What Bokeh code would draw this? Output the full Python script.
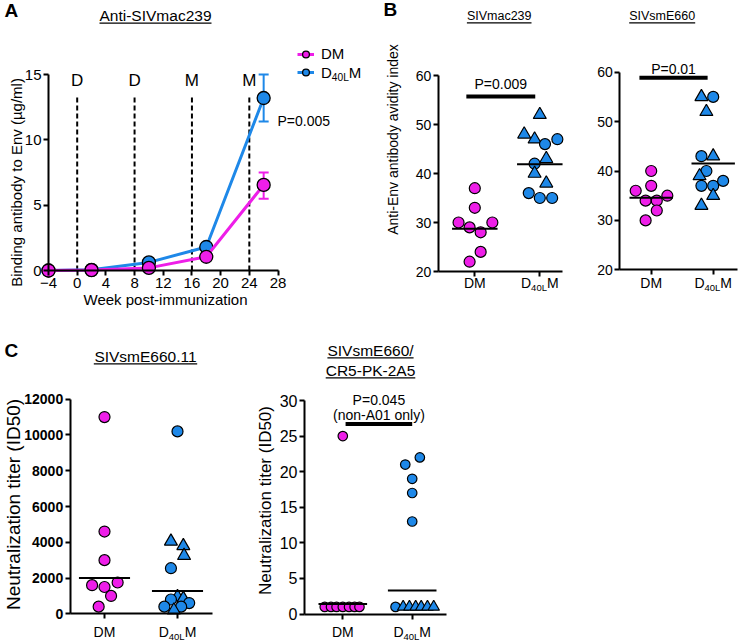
import math
from bokeh.plotting import figure
from bokeh.models import (Range1d, FixedTicker, Label, BoxAnnotation, Legend,
                          LegendItem, Whisker, TeeHead, ColumnDataSource)
from bokeh.layouts import column, row
from bokeh.embed import file_html
from bokeh.resources import INLINE
from bokeh.core.properties import value

FONT = "Liberation Sans"
MAGENTA = "#EE1EE8"
BLUE = "#1E88E8"

# ---------------- data ----------------
# Panel A: binding antibody to Env (ug/ml), mean with error bar ends
weeks = [-4, 2, 10, 18, 26]
dm_bind = [0.0, 0.03, 0.2, 1.05, 6.55]
dm_bind_lo = [0.0, 0.03, 0.2, 1.05, 5.5]
dm_bind_hi = [0.0, 0.03, 0.2, 1.05, 7.5]
d40_bind = [0.0, 0.05, 0.62, 1.8, 13.2]
d40_bind_lo = [0.0, 0.05, 0.62, 1.8, 11.4]
d40_bind_hi = [0.0, 0.05, 0.62, 1.8, 15.0]
imm_weeks = [0, 8, 16, 24]
imm_labels = ["D", "D", "M", "M"]
a_x_ticks = [-4, 0, 4, 8, 12, 16, 20, 24, 28]
a_y_ticks = [0, 5, 10, 15]
a_p = "P=0.005"

groups = ["DM", "D40LM"]

# Panel B: avidity index
mac_dm = [37, 33, 30, 30, 29, 28, 24, 22]
mac_dm_jit = [0.0, 0.0, -0.25, 0.27, -0.08, 0.09, 0.09, -0.08]
mac_d40 = [52, 48, 47, 46, 47, 42, 43, 40, 38, 36, 35, 35]
mac_d40_mk = ["triangle", "triangle", "triangle", "circle", "circle", "circle",
              "triangle", "triangle", "triangle", "circle", "circle", "circle"]
mac_d40_jit = [0.0, -0.24, -0.08, 0.08, 0.27, -0.08, 0.1, -0.08, 0.1, -0.17, 0.0, 0.19]
mac_center = [28.7, 41.9]
mac_p = "P=0.009"

e660_dm = [40, 37, 36, 35, 34, 34, 32, 30]
e660_dm_jit = [0.0, 0.0, -0.25, 0.26, -0.09, 0.09, 0.09, -0.09]
e660_d40 = [55, 55, 52, 43, 43, 40, 39, 37, 37, 38, 35, 33]
e660_d40_mk = ["triangle", "circle", "triangle", "circle", "triangle", "circle",
               "triangle", "circle", "circle", "circle", "triangle", "triangle"]
e660_d40_jit = [-0.19, 0.0, -0.11, -0.19, 0.0, -0.11, -0.22, -0.19, 0.0, 0.16, 0.0, -0.19]
e660_center = [34.6, 41.5]
e660_p = "P=0.01"
avid_ticks = [20, 30, 40, 50, 60]

# Panel C: neutralization titer (ID50)
n11_dm = [11000, 4600, 3000, 1600, 1750, 1500, 1000, 400]
n11_dm_jit = [0.0, 0.0, 0.0, -0.17, 0.18, 0.0, 0.09, -0.08]
n11_d40 = [10200, 4050, 3800, 3250, 2550, 950, 850, 800, 600, 400, 400, 200]
n11_d40_mk = ["circle", "triangle", "triangle", "triangle", "circle", "triangle",
              "triangle", "circle", "circle", "circle", "circle", "triangle"]
n11_d40_jit = [0.0, -0.09, 0.08, 0.09, -0.09, 0.0, 0.08, -0.09, 0.16, -0.18, 0.05, -0.05]
n11_center = [2000, 1270]
n11_ticks = [0, 2000, 4000, 6000, 8000, 10000, 12000]

a5_dm = [25, 1, 1, 1, 1, 1, 1, 1]
a5_dm_jit = [0.0, -0.26, -0.17, -0.09, 0.0, 0.09, 0.17, 0.24]
a5_d40 = [22, 21, 19, 17, 13, 1, 1, 1, 1, 1, 1, 1]
a5_d40_mk = ["circle", "circle", "circle", "circle", "circle", "circle",
             "triangle", "triangle", "triangle", "triangle", "triangle", "triangle"]
a5_d40_jit = [0.11, -0.1, 0.0, 0.0, 0.0, -0.24, -0.13, -0.04, 0.05, 0.13, 0.22, 0.31]
a5_center = [1.4, 3.3]
a5_p = ["P=0.045", "(non-A01 only)"]
a5_ticks = [0, 5, 10, 15, 20, 25, 30]

# ---------------- helpers ----------------
CW = {"A": .667, "n": .556, "t": .278, "i": .222, "-": .333, "S": .667, "I": .278,
      "V": .667, "m": .833, "a": .556, "c": .5, "s": .5, "E": .667, ".": .278,
      "/": .278, "C": .722, "R": .722, "P": .667, "K": .667, "D": .722, "L": .556,
      "M": .833, "=": .584, " ": .278}


def tw(s, fs):
    return sum(CW.get(ch, .556) for ch in s) * fs


class Panel:
    def __init__(self, box, xcal, ycal):
        x0, y0, w, h = box
        self.x0, self.y0, self.w, self.h = box
        px0, vx0, px1, vx1 = xcal
        py0, vy0, py1, vy1 = ycal
        kx = (vx1 - vx0) / (px1 - px0)
        ky = (vy1 - vy0) / (py1 - py0)
        self.X = lambda px: vx0 + (px - px0) * kx
        self.Y = lambda py: vy0 + (py - py0) * ky
        self.PX = lambda v: px0 + (v - vx0) / kx
        self.PY = lambda v: py0 + (v - vy0) / ky
        p = figure(width=w, height=h,
                   x_range=Range1d(self.X(x0), self.X(x0 + w)),
                   y_range=Range1d(self.Y(y0 + h), self.Y(y0)),
                   output_backend="svg", toolbar_location=None)
        p.min_border = 0
        p.min_border_left = p.min_border_right = p.min_border_top = p.min_border_bottom = 0
        p.outline_line_color = None
        p.grid.visible = False
        p.background_fill_color = "white"
        p.border_fill_color = "white"
        self.p = p

    def text(self, px, py, txt, fs, align="left", bold=False, angle=0.0,
             baseline="middle"):
        self.p.add_layout(Label(x=self.X(px), y=self.Y(py), text=txt,
                                text_font=FONT, text_font_size=f"{fs}px",
                                text_align=align, text_baseline=baseline,
                                text_font_style="bold" if bold else "normal",
                                angle=angle, text_color="black"))

    def ctext(self, px, cy, txt, fs, align="center", bold=False):
        self.text(px, cy, txt, fs, align=align, bold=bold, baseline="middle")

    def vtext(self, cx, cy, txt, fs):
        self.text(cx, cy, txt, fs, align="center", angle=math.pi / 2,
                  baseline="middle")

    def underline(self, xa, xb, py):
        self.p.add_layout(BoxAnnotation(left=self.X(xa), right=self.X(xb),
                                        top=self.Y(py - 0.6), bottom=self.Y(py + 0.6),
                                        fill_color="black", fill_alpha=1.0,
                                        line_alpha=0))

    def title(self, cx, cy, txt, fs, ul):
        self.ctext(cx, cy, txt, fs)
        w = tw(txt, fs)
        self.underline(cx - w / 2, cx + w / 2, ul)

    def group_label(self, name, px, cy, fs, anchor="center"):
        if name == "D40LM":
            sfs = round(fs * 0.68, 1)
            parts = [("D", fs, 0.0),
                     ("40L", sfs, 0.358 * fs + 0.22 * fs - 0.358 * sfs),
                     ("M", fs, 0.0)]
        else:
            parts = [(name, fs, 0.0)]
        total = sum(tw(t, f) for t, f, _ in parts)
        x = px - total / 2 if anchor == "center" else px
        for t, f, dy in parts:
            self.text(x, cy + dy, t, f, baseline="middle")
            x += tw(t, f)


def setup_axes(P, xfix, xb, xt, yfix, yb, yt, fs, bold=False, xlabels=True):
    p = P.p
    xa, ya = p.xaxis[0], p.yaxis[0]
    xa.fixed_location = xfix
    ya.fixed_location = yfix
    xa.bounds = xb
    ya.bounds = yb
    xa.ticker = FixedTicker(ticks=xt)
    ya.ticker = FixedTicker(ticks=yt)
    for ax in (xa, ya):
        ax.axis_line_width = 2
        ax.axis_line_color = "black"
        ax.major_tick_line_width = 2
        ax.major_tick_line_color = "black"
        ax.major_tick_out = 5
        ax.major_tick_in = 0
        ax.minor_tick_line_color = None
        ax.major_label_text_font = FONT
        ax.major_label_text_font_size = f"{fs}px"
        ax.major_label_text_font_style = "bold" if bold else "normal"
        ax.major_label_text_color = "black"
        ax.major_label_standoff = 2
    if not xlabels:
        xa.major_label_overrides = {t: "" for t in xt}


HW = 0.35  # half-width of the summary line


def dots(P, dm_vals, dm_jit, d40_vals, d40_jit, d40_mk, centers, size):
    p = P.p
    dm_src = ColumnDataSource(dict(x=[1 + j for j in dm_jit], y=dm_vals))
    p.scatter("x", "y", source=dm_src, size=size, marker="circle",
              fill_color=MAGENTA, line_color="black", line_width=1.2)
    d40_src = ColumnDataSource(dict(x=[2 + j for j in d40_jit], y=d40_vals, m=d40_mk,
                                    s=[size + 2 if m == "triangle" else size for m in d40_mk]))
    p.scatter("x", "y", source=d40_src, size="s", marker="m",
              fill_color=BLUE, line_color="black", line_width=1.2)
    p.segment(x0=[1 - HW, 2 - HW], x1=[1 + HW, 2 + HW], y0=centers, y1=centers,
              line_color="black", line_width=2)


def sig(P, x0, x1, yv, texts, text_cys, fs=14):
    P.p.segment(x0=[x0], x1=[x1], y0=[yv], y1=[yv], line_color="black", line_width=4)
    cx = P.PX((x0 + x1) / 2)
    for t, cy in zip(texts, text_cys):
        P.ctext(cx, cy, t, fs)


NAN = float("nan")

# ---------------- Panel A ----------------
A = Panel((0, 0, 378, 312), (48, -4, 277.5, 28), (270, 0, 74, 15))
pa = A.p
setup_axes(A, 0, (-4, 28), a_x_ticks, -4, (0, 15), a_y_ticks, 15)
pa.segment(x0=imm_weeks, x1=imm_weeks, y0=[0] * 4, y1=[13.3] * 4,
           line_color="black", line_width=2, line_dash="5 3")
pa.text(x=imm_weeks, y=[A.Y(79.5)] * 4, text=imm_labels,
        text_font=value(FONT), text_font_size="17px", text_align="center",
        text_baseline="middle", text_color="black")

for vals, lo, hi, col in ((d40_bind, d40_bind_lo, d40_bind_hi, BLUE),
                          (dm_bind, dm_bind_lo, dm_bind_hi, MAGENTA)):
    src = ColumnDataSource(dict(x=weeks, y=vals, lo=lo, hi=hi))
    pa.line("x", "y", source=src, line_color=col, line_width=3)
    pa.add_layout(Whisker(source=src, base="x", upper="hi", lower="lo",
                          line_color=col, line_width=2,
                          upper_head=TeeHead(size=10, line_color=col, line_width=2),
                          lower_head=TeeHead(size=10, line_color=col, line_width=2)))
    pa.scatter("x", "y", source=src, size=13, marker="circle", fill_color=col,
               line_color="black", line_width=1.3)

leg_items = []
for name, col in (("DM", MAGENTA), ("D40LM", BLUE)):
    lr = pa.line(x=[NAN, NAN], y=[NAN, NAN], line_color=col, line_width=3)
    sr = pa.scatter(x=[NAN], y=[NAN], size=12 / 0.4, marker="circle", fill_color=col,
                    line_color="black", line_width=1.3)
    leg_items.append(LegendItem(label=" ", renderers=[lr, sr]))
legend = Legend(items=leg_items, location=(297 - A.x0, A.y0 + A.h - (71.7 + 9)),
                orientation="vertical", glyph_width=17, glyph_height=18,
                label_height=18, label_width=1, label_standoff=0, spacing=0,
                padding=0, margin=0, border_line_color=None,
                background_fill_alpha=0, label_text_font_size="8px")
pa.add_layout(legend)
A.group_label("DM", 320.5, 53.3, 15, anchor="left")
A.group_label("D40LM", 320.5, 71.7, 15, anchor="left")
A.ctext(277, 120, a_p, 14, align="left")
A.ctext(4, 9.5, "A", 19, align="left", bold=True)
A.title(155, 15.3, "Anti-SIVmac239", 15.5, 22.7)
A.vtext(16, 182, "Binding antibody to Env (\u00b5g/ml)", 15)
A.ctext(165, 299, "Week post-immunization", 15)

# ---------------- Panel B (left) ----------------
B1 = Panel((378, 0, 212, 312), (474.3, 1, 539.3, 2), (75, 60, 271, 20))
setup_axes(B1, 20, (0.44, 2.355), [1, 2], 0.44, (20, 60), avid_ticks, 14, xlabels=False)
dots(B1, mac_dm, mac_dm_jit, mac_d40, mac_d40_jit, mac_d40_mk, mac_center, 11)
sig(B1, 0.87, 1.93, 55.7, [mac_p], [83.3])
for i, g in enumerate(groups):
    B1.group_label(g, B1.PX(i + 1), 282.8, 14)
B1.ctext(383, 8.5, "B", 19, align="left", bold=True)
B1.title(498.7, 15, "SIVmac239", 12.5, 22.3)
B1.vtext(392.5, 139, "Anti-Env antibody avidity index", 14)

# ---------------- Panel B (right) ----------------
B2 = Panel((590, 0, 158, 312), (650.7, 1, 712.7, 2), (71.7, 60, 269.3, 20))
setup_axes(B2, 20, (0.494, 2.39), [1, 2], 0.494, (20, 60), avid_ticks, 14, xlabels=False)
dots(B2, e660_dm, e660_dm_jit, e660_d40, e660_d40_jit, e660_d40_mk, e660_center, 11)
sig(B2, 0.81, 1.91, 58.87, [e660_p], [68.3])
for i, g in enumerate(groups):
    B2.group_label(g, B2.PX(i + 1), 282.8, 14)
B2.title(661.7, 15, "SIVsmE660", 12.5, 22.3)

# ---------------- Panel C (left) ----------------
C1 = Panel((0, 312, 252, 329), (104, 1, 177, 2), (398.7, 12000, 613.3, 0))
setup_axes(C1, 0, (0.53, 2.48), [1, 2], 0.53, (0, 12000), n11_ticks, 14, bold=True,
           xlabels=False)
dots(C1, n11_dm, n11_dm_jit, n11_d40, n11_d40_jit, n11_d40_mk, n11_center, 11)
for i, g in enumerate(groups):
    C1.group_label(g, C1.PX(i + 1), 631, 14)
C1.ctext(4, 349.7, "C", 19, align="left", bold=True)
C1.title(145, 355.8, "SIVsmE660.11", 15.5, 363.3)
C1.vtext(13, 504, "Neutralization titer (ID50)", 19)

# ---------------- Panel C (right) ----------------
C2 = Panel((252, 312, 220, 329), (342.3, 1, 411.7, 2), (400, 30, 613.5, 0))
setup_axes(C2, 0, (0.448, 2.5), [1, 2], 0.448, (0, 30), a5_ticks, 16, xlabels=False)
dots(C2, a5_dm, a5_dm_jit, a5_d40, a5_d40_jit, a5_d40_mk, a5_center, 9.5)
sig(C2, 1.04, 2.0, 26.7, a5_p, [399.5, 414.5])
for i, g in enumerate(groups):
    C2.group_label(g, C2.PX(i + 1), 631, 14)
C2.title(370, 350, "SIVsmE660/", 15.5, 357.3)
C2.title(370, 370, "CR5-PK-2A5", 15.5, 377.3)
C2.vtext(265, 500, "Neutralization titer (ID50)", 17)

layout = column(row(A.p, B1.p, B2.p), row(C1.p, C2.p))
open("out.html", "w").write(file_html(layout, INLINE))
